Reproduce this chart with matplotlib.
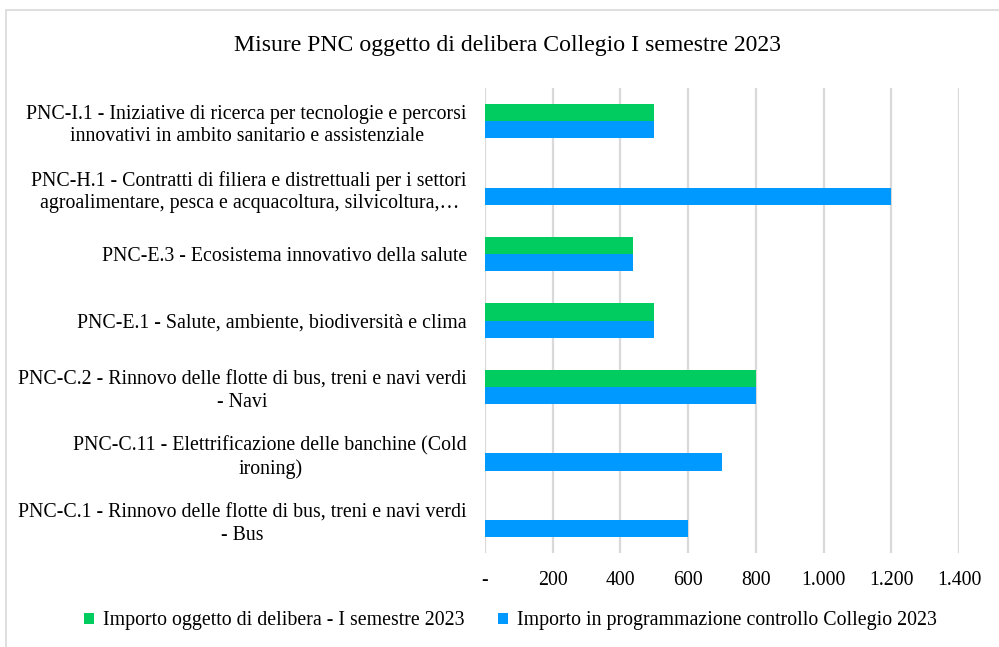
import matplotlib
matplotlib.use("Agg")
import matplotlib.pyplot as plt
import numpy as np
from matplotlib.patches import Rectangle

plt.rcParams['font.family'] = ['Liberation Serif', 'DejaVu Serif']

title = "Misure PNC oggetto di delibera Collegio I semestre 2023"
categories = [
    "PNC-I.1 - Iniziative di ricerca per tecnologie e percorsi\ninnovativi in ambito sanitario e assistenziale",
    "PNC-H.1 - Contratti di filiera e distrettuali per i settori\nagroalimentare, pesca e acquacoltura, silvicoltura,…",
    "PNC-E.3 - Ecosistema innovativo della salute",
    "PNC-E.1 - Salute, ambiente, biodiversità e clima",
    "PNC-C.2 - Rinnovo delle flotte di bus, treni e navi verdi\n- Navi",
    "PNC-C.11 - Elettrificazione delle banchine (Cold\nironing)",
    "PNC-C.1 - Rinnovo delle flotte di bus, treni e navi verdi\n- Bus",
]
series_names = ["Importo oggetto di delibera - I semestre 2023",
                "Importo in programmazione controllo Collegio 2023"]
delibera = [500, 0, 437, 500, 800, 0, 0]
programmazione = [500, 1200, 437, 500, 800, 700, 600]
xticks = [0, 200, 400, 600, 800, 1000, 1200, 1400]
xticklabels = ["-", "200", "400", "600", "800", "1.000", "1.200", "1.400"]

green = "#00CC60"
blue = "#0099FF"
fs = 14.3

fig = plt.figure(figsize=(9.99, 6.47), dpi=100)
ax = fig.add_axes([485/999, 1-553/647, (959-485)/999, (553-88)/647])

y = np.arange(len(categories))
h = 0.26
ax.barh(y - h/2, delibera, height=h, color=green, label=series_names[0], zorder=3)
ax.barh(y + h/2, programmazione, height=h, color=blue, label=series_names[1], zorder=3)

ax.set_ylim(len(categories) - 0.5, -0.5)
ax.set_xlim(0, 1400)
ax.set_xticks(xticks)
ax.set_xticklabels(xticklabels, fontsize=fs)
ax.set_yticks(y)
ax.set_yticklabels(categories, fontsize=fs, multialignment='center', linespacing=1.25)
ax.tick_params(axis='both', length=0)
ax.tick_params(axis='x', pad=13)
ax.tick_params(axis='y', pad=13)
ax.grid(axis='x', color='#D9D9D9', linewidth=1.6, zorder=0)
for s in ax.spines.values():
    s.set_visible(False)

fig.text(0.508, 1-46/647, title, ha='center', va='center', fontsize=17.1)

leg = fig.legend(loc='center', bbox_to_anchor=(0.511, 1-621/647), ncol=2, frameon=False,
                 fontsize=fs, handlelength=0.5, handleheight=0.5, handletextpad=0.45,
                 columnspacing=1.7)

fig.patches.append(Rectangle((6/999, -0.1), 1.2, 1-10/647+0.1, transform=fig.transFigure,
                             fill=False, edgecolor='#D9D9D9', linewidth=1.2, zorder=0))

fig.savefig("out.png", dpi=100)
